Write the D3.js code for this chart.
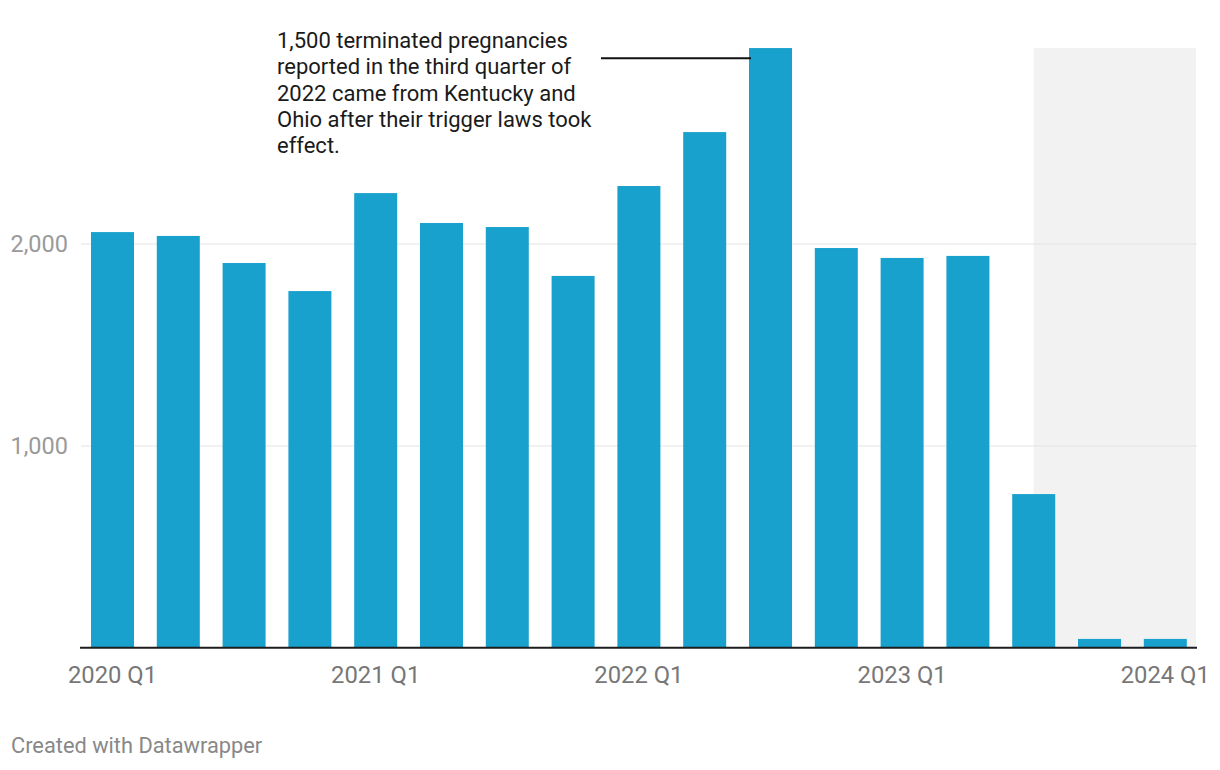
<!DOCTYPE html>
<html>
<head>
<meta charset="utf-8">
<script src="https://cdn.jsdelivr.net/npm/d3@7"></script>
<style>
body { margin: 0; background: #fff; font-family: Roboto, sans-serif; }
</style>
</head>
<body>
<div id="chart"></div>
<script>
// quarters and counts
var quarters = ["2020 Q1","2020 Q2","2020 Q3","2020 Q4","2021 Q1","2021 Q2","2021 Q3","2021 Q4",
  "2022 Q1","2022 Q2","2022 Q3","2022 Q4","2023 Q1","2023 Q2","2023 Q3","2023 Q4","2024 Q1"];
var counts = [2059, 2040, 1906, 1767, 2252, 2104, 2084, 1842, 2287, 2554, 2970, 1980, 1931, 1941, 762, 45, 45];
var tickQuarters = ["2020 Q1","2021 Q1","2022 Q1","2023 Q1","2024 Q1"];
var yTicks = [1000, 2000];
var shadeFrom = "2023 Q3";
var noteLines = ["1,500 terminated pregnancies", "reported in the third quarter of",
  "2022 came from Kentucky and", "Ohio after their trigger laws took", "effect."];
var noteQuarter = "2022 Q3";

w = 1220
h = 770
var svg = d3.select("#chart").append("svg")
  .attr("width", w).attr("height", h);

var x = d3.scaleBand()
  .domain(quarters)
  .range([80, 1197.8])
  .paddingInner(0.3465)
  .paddingOuter(0.167);

var y = d3.scaleLinear()
  .domain([0, 3000])
  .range([648, 42]);

var left = 81, right = 1197;

// shaded region for the most recent quarters
svg.append("rect")
  .attr("x", x(shadeFrom) + x.bandwidth() / 2)
  .attr("y", y(2970))
  .attr("width", right - 1 - (x(shadeFrom) + x.bandwidth() / 2))
  .attr("height", y(0) - y(2970))
  .attr("fill", "#f2f2f2");

// grid
svg.append("g")
  .selectAll("line")
  .data(yTicks)
  .enter()
  .append("line")
  .attr("x1", left).attr("x2", right)
  .attr("y1", d => y(d)).attr("y2", d => y(d))
  .attr("stroke", "#e3e3e3")
  .attr("stroke-width", 1);

svg.append("g")
  .selectAll("text")
  .data(yTicks)
  .enter()
  .append("text")
  .attr("x", 68)
  .attr("y", d => y(d) + 8)
  .attr("text-anchor", "end")
  .attr("fill", "#9a9a9a")
  .style("font-size", "23.5px")
  .text(d => d3.format(",")(d));

// bars
svg.append("g")
  .selectAll("rect")
  .data(quarters)
  .enter()
  .append("rect")
  .attr("x", d => x(d))
  .attr("width", x.bandwidth())
  .attr("y", (d, i) => y(counts[i]))
  .attr("height", (d, i) => y(0) - y(counts[i]) - 1)
  .attr("fill", "#18a1cd");

// baseline
svg.append("line")
  .attr("x1", left - 1).attr("x2", right)
  .attr("y1", y(0) - 0.3).attr("y2", y(0) - 0.3)
  .attr("stroke", "#1d1d1d")
  .attr("stroke-width", 2);

// x labels
svg.append("g")
  .selectAll("text")
  .data(tickQuarters)
  .enter()
  .append("text")
  .attr("x", d => x(d) + x.bandwidth() / 2)
  .attr("y", 683)
  .attr("text-anchor", "middle")
  .attr("fill", "#777")
  .style("font-size", "23.8px")
  .text(d => d);

// annotation
var noteY = y(2920);
svg.append("line")
  .attr("x1", 601).attr("x2", x(noteQuarter) + 2)
  .attr("y1", noteY).attr("y2", noteY)
  .attr("stroke", "#111")
  .attr("stroke-width", 2);

svg.append("text")
  .attr("x", 277)
  .attr("y", 48)
  .attr("fill", "#1a1a1a")
  .style("font-size", "22px")
  .selectAll("tspan")
  .data(noteLines)
  .enter()
  .append("tspan")
  .attr("x", 277)
  .attr("dy", (d, i) => i == 0 ? 0 : 26.3)
  .text(d => d);

svg.append("text")
  .attr("x", 11)
  .attr("y", 753)
  .attr("fill", "#888")
  .style("font-size", "21.8px")
  .text("Created with Datawrapper");
</script>
</body>
</html>
